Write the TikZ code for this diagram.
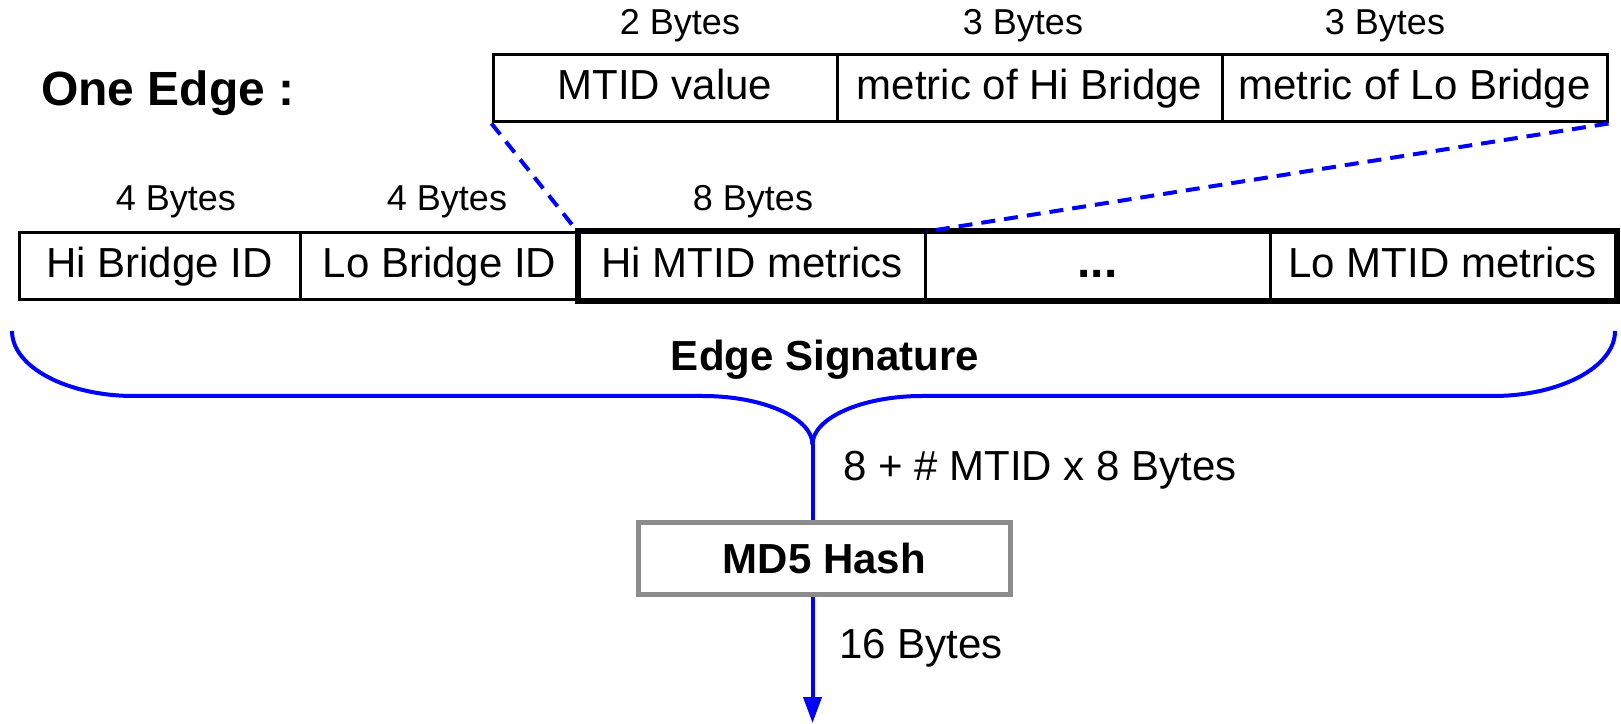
\documentclass[tikz,border=0pt]{standalone}
\usepackage{fontspec}
\setmainfont{Liberation Sans}
\usetikzlibrary{arrows.meta}
\definecolor{boxgray}{RGB}{140,140,140}
\begin{document}
\begin{tikzpicture}[x=1pt,y=1pt,
 cell/.style={draw=black, line width=3pt, minimum height=67pt, inner sep=0pt, text height=31pt, text depth=9pt, font=\fontsize{42}{48}\selectfont},
 bytes/.style={font=\fontsize{36}{42}\selectfont, inner sep=0pt},
 blueline/.style={draw=blue, line width=4pt},
 dashblue/.style={draw=blue, line width=4pt, dash pattern=on 14pt off 9pt},
 lbl/.style={font=\fontsize{42}{48}\selectfont, inner sep=0pt, anchor=west},
 boldlbl/.style={font=\bfseries\fontsize{42}{48}\selectfont, inner sep=0pt},
]
\useasboundingbox (0,0) rectangle (1621,723);
% title
\node[anchor=west, inner sep=0pt, font=\bfseries\fontsize{48}{54}\selectfont] (oe) at (41,630) {One Edge :};
% top row
\node[cell, minimum width=344pt] (mtid) at (665,634.5) {MTID value};
\node[cell, minimum width=385pt] (hibr) at (1029.5,634.5) {metric of Hi Bridge};
\node[cell, minimum width=385pt] (lobr) at (1414.5,634.5) {metric of Lo Bridge};
\node[bytes] (b1) at (680,697) {2 Bytes};
\node[bytes] (b2) at (1023,697) {3 Bytes};
\node[bytes] (b3) at (1385,697) {3 Bytes};
% second row
\node[cell, minimum width=281pt] (hibid) at (159.5,456.5) {Hi Bridge ID};
\node[cell, minimum width=279pt] (lobid) at (439.5,456.5) {Lo Bridge ID};
\node[cell, minimum width=346pt] (himtid) at (752,456.5) {Hi MTID metrics};
\node[cell, minimum width=345pt, font=\bfseries\fontsize{48}{54}\selectfont] (dots) at (1097.5,456.5) {...};
\node[cell, minimum width=345pt] (lomtid) at (1442.5,456.5) {Lo MTID metrics};
\draw[line width=6pt] (himtid.north west) rectangle (lomtid.south east);
\node[bytes] (b4) at (176,521) {4 Bytes};
\node[bytes] (b5) at (447,521) {4 Bytes};
\node[bytes] (b6) at (753,521) {8 Bytes};
% dashed connectors
\draw[dashblue] (mtid.south west) -- (himtid.north west);
\draw[dashblue] (lobr.south east) -- (himtid.north east);
% brace
\coordinate (bl) at (12,392);
\coordinate (br) at (1615,392);
\coordinate (tip) at (812.5,278.5);
\draw[blueline] (bl) .. controls (12,356) and (67,327) .. (134,327) -- (703,327)
  .. controls (763,327) and (812.5,305) .. (tip);
\draw[blueline] (br) .. controls (1615,356) and (1560,327) .. (1493,327) -- (922,327)
  .. controls (862,327) and (812.5,305) .. (tip);
\node[boldlbl] (es) at (825,363) {Edge Signature};
% hash
\node[draw=boxgray, line width=5pt, fill=white, minimum width=372pt, minimum height=72pt, inner sep=0pt, font=\bfseries\fontsize{42}{48}\selectfont] (md5) at (824.5,164.5) {MD5 Hash};
\coordinate (bottom) at (812.5,0);
\draw[blueline] (tip) -- (tip |- md5.north);
\draw[blueline, -{Triangle[length=26pt,width=18pt]}] (tip |- md5.south) -- (bottom);
\node[lbl] (l8) at (843,253) {8 + \# MTID x 8 Bytes};
\node[lbl] (l16) at (839,75) {16 Bytes};
\end{tikzpicture}
\end{document}
